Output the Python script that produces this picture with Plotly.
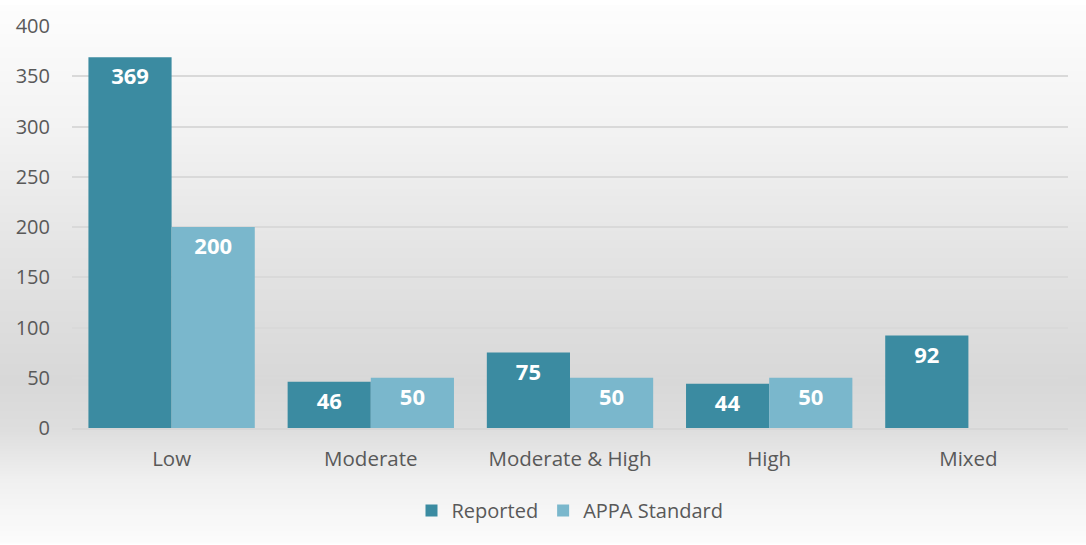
import base64, struct, zlib
import plotly.graph_objects as go

categories = ["Low", "Moderate", "Moderate & High", "High", "Mixed"]
reported = [369, 46, 75, 44, 92]
appa_standard = [200, 50, 50, 50, None]
y_ticks = [0, 50, 100, 150, 200, 250, 300, 350, 400]

W, H = 1086, 545
ML, MR, MT, MB = 72, 18, 21, 117

# vertical background gradient (decorative)
stops = [(0, 253), (120, 243), (250, 228), (380, 216), (430, 222), (480, 240), (545, 252)]
def shade(y):
    for (y0, c0), (y1, c1) in zip(stops, stops[1:]):
        if y0 <= y <= y1:
            t = (y - y0) / (y1 - y0)
            return int(round(c0 + (c1 - c0) * t))
    return stops[-1][1]

def png_gradient(h):
    raw = b""
    for y in range(h):
        v = shade(y)
        raw += b"\x00" + bytes([v, v, v]) * 2
    def chunk(t, d):
        c = struct.pack(">I", len(d)) + t + d
        return c + struct.pack(">I", zlib.crc32(t + d) & 0xffffffff)
    data = b"\x89PNG\r\n\x1a\n"
    data += chunk(b"IHDR", struct.pack(">IIBBBBB", 2, h, 8, 2, 0, 0, 0))
    data += chunk(b"IDAT", zlib.compress(raw))
    data += chunk(b"IEND", b"")
    return "data:image/png;base64," + base64.b64encode(data).decode()

pw = W - ML - MR
ph = H - MT - MB

label_font = dict(color="white", size=22, family="Open Sans", weight="bold")

fig = go.Figure()
fig.add_trace(go.Bar(
    name="Reported", x=categories, y=reported,
    marker=dict(color="#3B8BA1", line=dict(width=0)),
    text=[str(v) for v in reported], textposition="inside", insidetextanchor="end",
    textfont=label_font, constraintext="none", textangle=0,
))
fig.add_trace(go.Bar(
    name="APPA Standard", x=categories, y=appa_standard,
    marker=dict(color="#7AB7CC", line=dict(width=0)),
    text=[str(v) if v is not None else "" for v in appa_standard], textposition="inside",
    insidetextanchor="end", textfont=label_font, constraintext="none", textangle=0,
))

fig.add_layout_image(dict(
    source=png_gradient(H), xref="paper", yref="paper",
    x=-ML / pw, y=1 + MT / ph, sizex=W / pw, sizey=H / ph,
    xanchor="left", yanchor="top", sizing="stretch", layer="below",
))

fig.update_layout(
    width=W, height=H,
    margin=dict(l=ML, r=MR, t=MT, b=MB),
    paper_bgcolor="white", plot_bgcolor="rgba(0,0,0,0)",
    barmode="group", bargap=0.165, bargroupgap=0,
    font=dict(family="Open Sans", color="#595959", size=20),
    showlegend=True,
    legend=dict(orientation="h", x=0.5, xanchor="center", y=-0.205, yanchor="middle",
                font=dict(size=20, color="#595959"), bgcolor="rgba(0,0,0,0)",
                traceorder="normal", itemwidth=30),
    xaxis=dict(showgrid=False, showline=True, linecolor="#d6d6d6", linewidth=2,
               ticks="", tickfont=dict(size=20.5, color="#595959"), ticklabelstandoff=11),
    yaxis=dict(range=[0, 400], tickvals=y_ticks, showgrid=True, gridcolor="#d9d9d9",
               gridwidth=1.5, zeroline=False, showline=False, ticks="",
               tickfont=dict(size=20, color="#595959"), ticklabelstandoff=21),
)

fig.write_html("out.html", config={"displayModeBar": False},
               post_script="document.body.style.margin='0';")
